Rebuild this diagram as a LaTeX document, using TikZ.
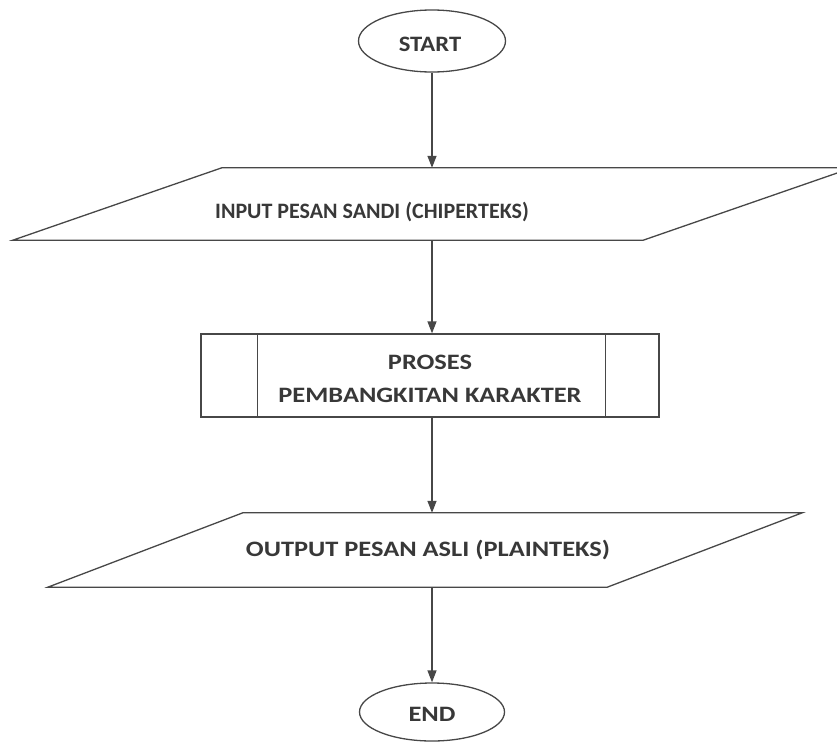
\documentclass[tikz,border=0pt]{standalone}
\usepackage{fontspec}
\setmainfont{Carlito}
\newfontfamily\plainlbl{Carlito}
\newfontfamily\widelbl{Carlito}[FakeStretch=1.2]
\newfontfamily\midlbl{Carlito}[FakeStretch=1.12]
\usetikzlibrary{shapes.geometric,arrows.meta,calc}
\tikzset{
  line/.style={draw=black!72, line width=1.3pt},
  lbl/.style={font=\bfseries\fontsize{22}{33}\selectfont, text=black!78, align=center},
  term/.style={ellipse, line, inner sep=0pt},
  iobox/.style={rectangle, draw=none, inner sep=0pt},
  arr/.style={line, -{Triangle[length=12pt,width=9pt]}},
}
\begin{document}
\begin{tikzpicture}[x=1pt,y=-1pt]
\useasboundingbox (0,0) rectangle (837,742);

% terminator: start
\node[term, minimum width=147pt, minimum height=62pt] (start) at (432,41) {};
\node[lbl, font=\midlbl\bfseries\fontsize{22}{33}\selectfont] (starttext) at (430,44) {START};

% data: input ciphertext
\node[iobox, minimum width=839pt, minimum height=72pt] (in) at (432.5,204) {};
\draw[line] ($(in.north west)+(209,0)$) -- (in.north east)
  -- ($(in.south east)-(209,0)$) -- (in.south west) -- cycle;
\node[lbl, font=\plainlbl\bfseries\fontsize{22}{33}\selectfont] (intext) at (372,212) {INPUT PESAN SANDI (CHIPERTEKS)};

% predefined process
\node[line, rectangle, minimum width=458pt, minimum height=83pt] (proc) at (430,375.5) {};
\draw[line] ($(proc.north west)+(57,0)$) -- ($(proc.south west)+(57,0)$);
\draw[line] ($(proc.north east)-(54,0)$) -- ($(proc.south east)-(54,0)$);
\node[lbl, font=\widelbl\bfseries\fontsize{22}{33}\selectfont] (proctext) at (430,378.5)
  {PROSES\\PEMBANGKITAN KARAKTER};

% data: output plaintext
\node[iobox, minimum width=754pt, minimum height=74pt] (out) at (425,550) {};
\draw[line] ($(out.north west)+(195,0)$) -- (out.north east)
  -- ($(out.south east)-(195,0)$) -- (out.south west) -- cycle;
\node[lbl, font=\widelbl\bfseries\fontsize{22}{33}\selectfont] (outtext) at (428,550) {OUTPUT PESAN ASLI (PLAINTEKS)};

% terminator: end
\node[term, minimum width=145pt, minimum height=58pt] (end) at (432,712) {};
\node[lbl, font=\widelbl\bfseries\fontsize{22}{33}\selectfont] (endtext) at (432,714) {END};

% flow
\draw[arr] (start) -- (start |- in.north);
\draw[arr] (start.south |- in.south) -- (start.south |- proc.north);
\draw[arr] (start.south |- proc.south) -- (start.south |- out.north);
\draw[arr] (start.south |- out.south) -- (end);
\end{tikzpicture}
\end{document}
